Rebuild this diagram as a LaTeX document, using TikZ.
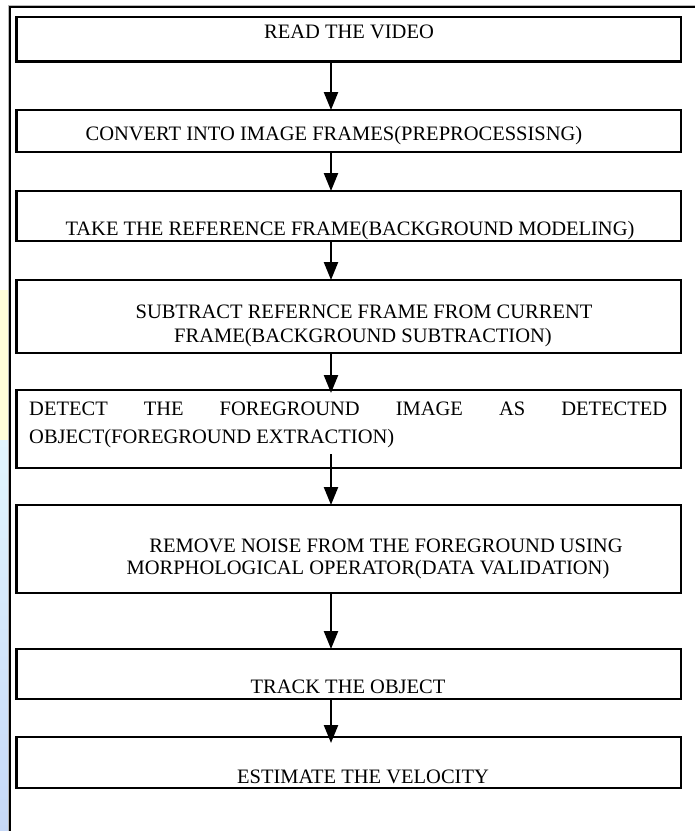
\documentclass[tikz,border=0pt]{standalone}
\usepackage{fontspec}
\setmainfont{Liberation Serif}
\usetikzlibrary{arrows.meta}
\definecolor{paleyellow}{HTML}{FFFDD8}
\definecolor{palecyan}{HTML}{E2F6FD}
\definecolor{paleblue}{HTML}{C6D8F7}
\begin{document}
\begin{tikzpicture}[x=1pt,y=-1pt,
  box/.style={draw=black, line width=2.2pt, minimum width=664.5pt, inner sep=0pt, outer sep=0pt, anchor=north west},
  txt/.style={font=\fontsize{20.5}{24}\selectfont, inner sep=0pt, anchor=base},
  arr/.style={draw=black, line width=2.4pt, -{Triangle[width=14pt,length=18pt]}}
]
\useasboundingbox (0,0) rectangle (695,831);
% left background strip
\fill[paleyellow] (0,290) rectangle (8,440);
\shade[top color=palecyan, bottom color=paleblue] (0,440) rectangle (8,831);
% outer frame
\draw[gray!55, line width=1pt] (8.8,831) -- (8.8,5.5) -- (695,5.5);
\draw[black, line width=1.8pt] (10.2,831) -- (10.2,6.8) -- (695,6.8);
% boxes
\node[box, minimum height=44.5pt] (b1) at (16.5,17) {};
\node[box, minimum height=42pt]   (b2) at (16.5,110) {};
\node[box, minimum height=50pt]   (b3) at (16.5,191) {};
\node[box, minimum height=73pt]   (b4) at (16.5,280) {};
\node[box, minimum height=78pt]   (b5) at (16.5,390) {};
\node[box, minimum height=88pt]   (b6) at (16.5,505) {};
\node[box, minimum height=50pt]   (b7) at (16.5,649) {};
\node[box, minimum height=51pt]   (b8) at (16.5,737) {};
% texts
\node[txt] (t1) at (349,38) {READ THE VIDEO};
\node[txt] (t2) at (334,140) {CONVERT INTO IMAGE FRAMES(PREPROCESSISNG)};
\node[txt] (t3) at (350,235) {TAKE THE REFERENCE FRAME(BACKGROUND MODELING)};
\node[txt] (t4a) at (364,318) {SUBTRACT REFERNCE FRAME FROM CURRENT};
\node[txt] (t4b) at (363,342) {FRAME(BACKGROUND SUBTRACTION)};
\node[txt, anchor=base west] (t5a) at (29,415) {\makebox[638pt][s]{DETECT THE FOREGROUND IMAGE AS DETECTED}};
\node[txt, anchor=base west] (t5b) at (29,443) {OBJECT(FOREGROUND EXTRACTION)};
\node[txt] (t6a) at (386,552) {REMOVE NOISE FROM THE FOREGROUND USING};
\node[txt] (t6b) at (368,574) {MORPHOLOGICAL OPERATOR(DATA VALIDATION)};
\node[txt] (t7) at (348,693) {TRACK THE OBJECT};
\node[txt] (t8) at (363,783) {ESTIMATE THE VELOCITY};
% connectors
\coordinate (ax) at (331,0);
\draw[arr] (b1.south -| ax) -- (b2.north -| ax);
\draw[arr] (b2.south -| ax) -- (b3.north -| ax);
\draw[arr] (b3.south -| ax) -- (b4.north -| ax);
\draw[arr, shorten >=-3pt] (b4.south -| ax) -- (b5.north -| ax);
\draw[arr] ([yshift=14pt]b5.south -| ax) -- (b6.north -| ax);
\draw[arr] (b6.south -| ax) -- (b7.north -| ax);
\draw[arr, shorten >=-6pt] (b7.south -| ax) -- (b8.north -| ax);
\end{tikzpicture}
\end{document}
